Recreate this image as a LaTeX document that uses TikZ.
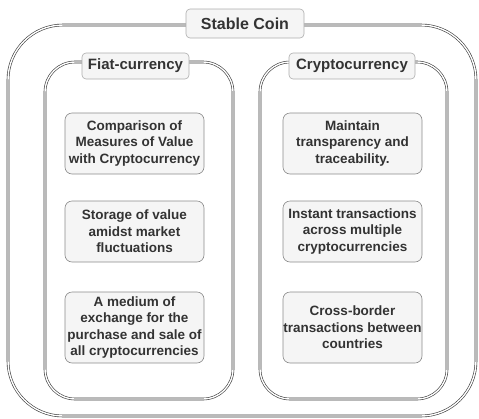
\documentclass[tikz,border=0pt]{standalone}
\usepackage{fontspec}
\setmainfont{Liberation Sans}
\definecolor{txt}{HTML}{333333}
\definecolor{boxfill}{HTML}{F5F5F5}
\definecolor{boxline}{HTML}{8A8A8A}
\definecolor{frameline}{HTML}{3A3A3A}
\tikzset{
  frame/.style={draw=frameline, line width=0.6pt, double=white, double distance=1.4pt, inner sep=0pt},
  itembox/.style={draw=boxline, fill=boxfill, rounded corners=7pt, line width=0.6pt,
     minimum width=139pt, align=center, inner sep=0pt, text=txt,
     font=\bfseries\fontsize{13.5}{16.5}\selectfont},
  labelbox/.style={draw=boxline!70, fill=boxfill, rounded corners=4pt, line width=0.6pt,
     inner sep=0pt, text=txt, font=\bfseries\fontsize{15}{17}\selectfont}
}
\begin{document}
\begin{tikzpicture}[x=1pt,y=-1pt]
\useasboundingbox (0,0) rectangle (479,418);
% outer frame
\draw[frame, rounded corners=55pt] (8,25) rectangle (476,416);
\node[labelbox, minimum width=118pt, minimum height=29pt, font=\bfseries\fontsize{16}{18}\selectfont] (stable) at (245,23.5) {Stable Coin};
% fiat frame
\draw[frame, rounded corners=30pt] (45,62) rectangle (233,399);
\node[labelbox, minimum width=107pt, minimum height=26pt] (fiat) at (135.5,66) {Fiat-currency};
% crypto frame
\draw[frame, rounded corners=30pt] (260,62) rectangle (447,399);
\node[labelbox, minimum width=126pt, minimum height=26pt] (crypto) at (352,66) {Cryptocurrency};
% left items
\node[itembox, minimum height=61pt] (f1) at (134.5,143.5) {Comparison of\\Measures of Value\\with Cryptocurrency};
\node[itembox, minimum height=61pt] (f2) at (134.5,231.5) {Storage of value\\amidst market\\fluctuations};
\node[itembox, minimum height=71pt] (f3) at (134.5,327.5) {A medium of\\exchange for the\\purchase and sale of\\all cryptocurrencies};
% right items
\node[itembox, minimum height=61pt] (c1) at (352.5,143.5) {Maintain\\transparency and\\traceability.};
\node[itembox, minimum height=61pt] (c2) at (352.5,231.5) {Instant transactions\\across multiple\\cryptocurrencies};
\node[itembox, minimum height=71pt] (c3) at (352.5,327.5) {Cross-border\\transactions between\\countries};
\end{tikzpicture}
\end{document}
